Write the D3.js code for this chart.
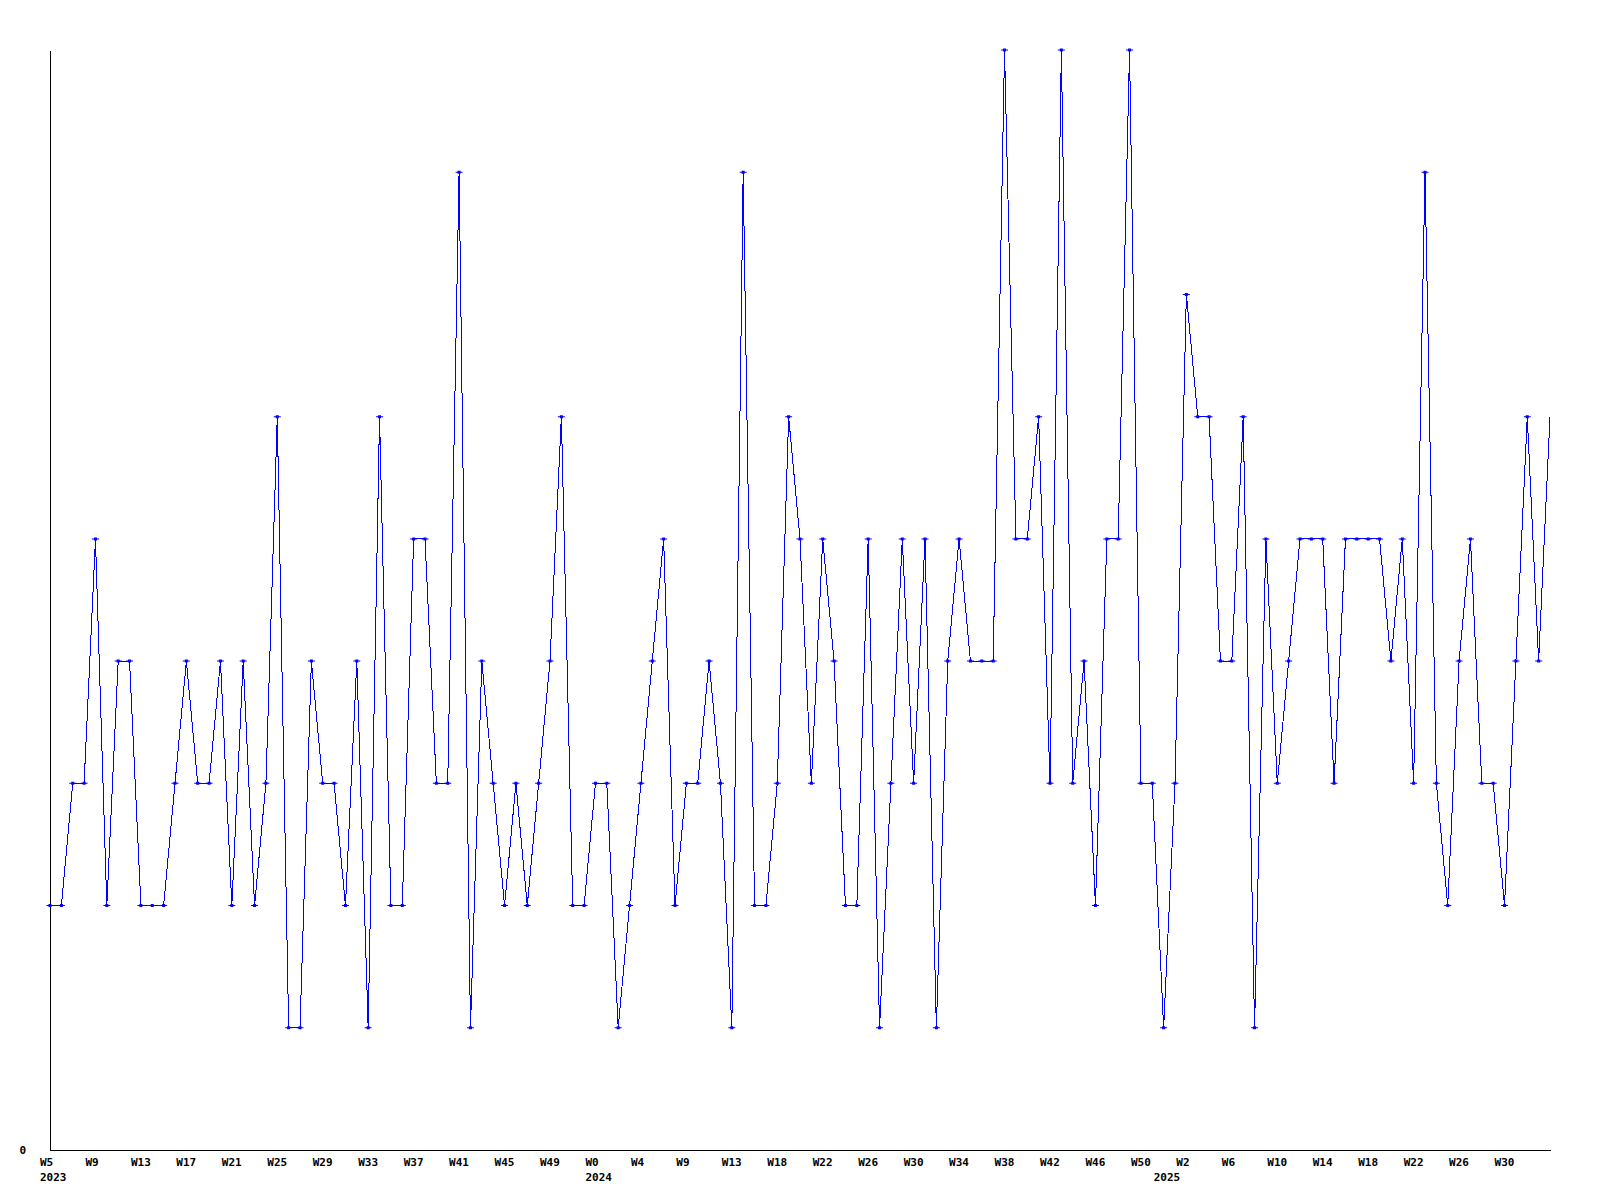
<!DOCTYPE html>
<html>
<head>
<meta charset="utf-8">
<script src="https://cdn.jsdelivr.net/npm/d3@7"></script>
<style>
  html, body { margin: 0; padding: 0; background: #ffffff; }
  svg { display: block; }
  .tick text, .lbl { font-family: "DejaVu Sans Mono", "Liberation Mono", monospace; font-weight: bold; font-size: 11px; fill: #000; }
</style>
</head>
<body>
<svg id="chart" width="1600" height="1200"></svg>
<script>
// Weekly values, one per point
const values = [
  2,2,3,3,5,2,4,4,2,2,
  2,3,4,3,3,4,2,4,2,3,
  6,1,1,4,3,3,2,4,1,6,
  2,2,5,5,3,3,8,1,4,3,
  2,3,2,3,4,6,2,2,3,3,
  1,2,3,4,5,2,3,3,4,3,
  1,8,2,2,3,6,5,3,5,4,
  2,2,5,1,3,5,3,5,1,4,
  5,4,4,4,9,5,5,6,3,9,
  3,4,2,5,5,9,3,3,1,3,
  7,6,6,4,4,6,1,5,3,4,
  5,5,5,3,5,5,5,5,4,5,
  3,8,3,2,4,5,3,3,2,4,
  6,4,6
];
// Week tick labels, one every 4th point
const weekLabels = [
  "W5","W9","W13","W17","W21","W25","W29","W33","W37","W41","W45","W49",
  "W0","W4","W9","W13","W18","W22","W26","W30","W34","W38","W42","W46","W50",
  "W2","W6","W10","W14","W18","W22","W26","W30"
];
const weekLabelStep = 4;
// Year labels and the point index they sit under
const yearLabels = ["2023","2024","2025"];
const yearIndex = [0, 48, 98];
const yMax = 9;
const yTicks = [0];

(function () {
const svg = d3.select("#chart");
const mLeft = 50, mRight = 1550, mTop = 50, mBottom = 1150;

const x = d3.scaleLinear().domain([0, values.length - 1]).range([mLeft, mRight]);
const y = d3.scaleLinear().domain([0, yMax]).range([mBottom, mTop]);

// X axis: week labels
const tickIdx = weekLabels.map((_, k) => k * weekLabelStep);
const xAxis = d3.axisBottom(x)
  .tickValues(tickIdx)
  .tickFormat((d, k) => weekLabels[k])
  .tickSize(0).tickSizeOuter(0);
const gx = svg.append("g").attr("transform", `translate(0,${mBottom})`).call(xAxis);
gx.select(".domain").attr("stroke", "#000").attr("stroke-width", 1).attr("shape-rendering", "crispEdges");
gx.selectAll(".tick text")
  .attr("text-anchor", "start")
  .attr("x", -10.5).attr("y", 16).attr("dy", null);

// Year labels
const yearAxis = d3.axisBottom(x)
  .tickValues(yearIndex)
  .tickFormat((d, k) => yearLabels[k])
  .tickSize(0).tickSizeOuter(0);
const gyr = svg.append("g").attr("transform", `translate(0,${mBottom})`).call(yearAxis);
gyr.select(".domain").remove();
gyr.selectAll(".tick text")
  .attr("text-anchor", "start")
  .attr("x", -10.5).attr("y", 30.5).attr("dy", null);

// Y axis
const yAxis = d3.axisLeft(y).tickValues(yTicks).tickFormat(d3.format("d")).tickSize(0).tickSizeOuter(0);
const gy = svg.append("g").attr("transform", `translate(${mLeft},0)`).call(yAxis);
gy.select(".domain").attr("stroke", "#000").attr("stroke-width", 1).attr("shape-rendering", "crispEdges");
gy.selectAll(".tick text").attr("text-anchor", "end").attr("x", -24).attr("dy", null).attr("y", 3.5);

// Line
const line = d3.line().x((d, i) => x(i)).y(d => y(d));
svg.append("path")
  .datum(values)
  .attr("fill", "none")
  .attr("stroke", "#0000ff")
  .attr("stroke-width", 1)
  .attr("shape-rendering", "crispEdges")
  .attr("d", line);

// Markers (all except the last, as in the reference)
const markerPath = "M-3.5,-0.5h7v1h-7zM-1.5,-1.5h3v3h-3z";
svg.append("g").selectAll("path")
  .data(values.slice(0, values.length - 1))
  .join("path")
  .attr("d", markerPath)
  .attr("fill", "#0000ff")
  .attr("transform", (d, i) => `translate(${x(i)},${y(d)})`);
})();
</script>
</body>
</html>
